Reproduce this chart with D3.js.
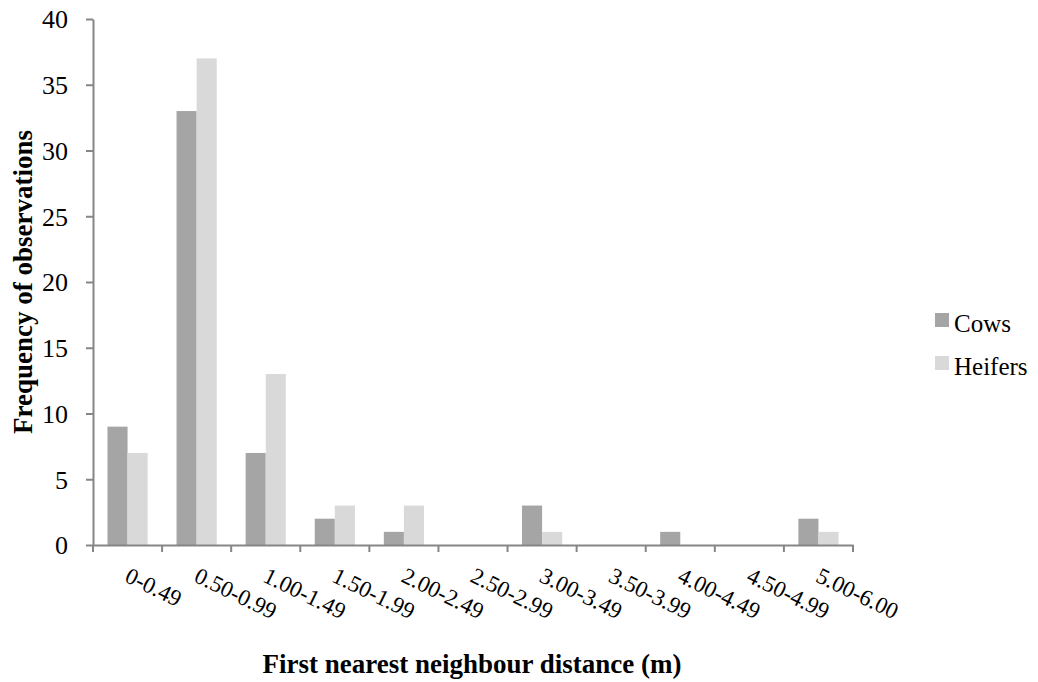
<!DOCTYPE html>
<html><head><meta charset="utf-8">
<script src="https://cdn.jsdelivr.net/npm/d3@7"></script>
<style>body{margin:0;background:#fff}svg{display:block}</style>
</head><body>
<script>
const categories = ["0-0.49","0.50-0.99","1.00-1.49","1.50-1.99","2.00-2.49","2.50-2.99","3.00-3.49","3.50-3.99","4.00-4.49","4.50-4.99","5.00-6.00"];
const cows = [9,33,7,2,1,0,3,0,1,0,2];
const heifers = [7,37,13,3,3,0,1,0,0,0,1];
const seriesNames = ["Cows","Heifers"];
const colors = ["#a5a5a5","#d9d9d9"];
const yTicks = [0,5,10,15,20,25,30,35,40];

(function(){
const FONT="'Liberation Serif', 'Times New Roman', Times, serif";
const W=1038,H=682;
const pL=93,pR=853,pT=19,pB=545;
const svg=d3.select("body").append("svg").attr("width",W).attr("height",H);
const x=d3.scaleBand().domain(categories).range([pL,pR]).paddingInner(0).paddingOuter(0);
const x1=d3.scaleBand().domain(seriesNames).range([0,x.bandwidth()]).paddingInner(0).paddingOuter(0.72);
const y=d3.scaleLinear().domain([0,40]).range([pB,pT]);
const axisCol="#868686";

const series=[cows,heifers];
seriesNames.forEach((s,si)=>{
  svg.append("g").selectAll("rect").data(categories).join("rect")
    .attr("x",d=>x(d)+x1(s))
    .attr("width",x1.bandwidth())
    .attr("y",(d,i)=>y(series[si][i]))
    .attr("height",(d,i)=>y(0)-y(series[si][i]))
    .attr("fill",colors[si]);
});

const ya=svg.append("g").attr("transform",`translate(${pL},0)`)
  .call(d3.axisLeft(y).tickValues(yTicks).tickSize(7).tickPadding(18).tickSizeOuter(0));
ya.select(".domain").attr("stroke",axisCol).attr("stroke-width",2);
ya.selectAll(".tick line").attr("stroke",axisCol).attr("stroke-width",2);
ya.selectAll(".tick text").style("font-family",FONT).style("font-size","26px").attr("fill","#000").attr("dy","0.34em");

const xa=svg.append("g").attr("transform",`translate(0,${pB})`)
  .call(d3.axisBottom(x).tickSize(0).tickSizeOuter(0));
xa.select(".domain").attr("stroke",axisCol).attr("stroke-width",2);
xa.selectAll(".tick line").remove();
xa.selectAll(".tick text")
  .style("font-family",FONT).style("font-size","23px").attr("fill","#000")
  .attr("text-anchor","start").attr("dy",0).attr("y",0).attr("x",0)
  .attr("transform","translate(-4,36) rotate(26)");
const bounds=categories.map(c=>x(c)).concat([pR]);
svg.append("g").selectAll("line").data(bounds).join("line")
  .attr("x1",d=>d).attr("x2",d=>d).attr("y1",pB).attr("y2",pB+7)
  .attr("stroke",axisCol).attr("stroke-width",2);

svg.append("text").attr("x",472).attr("y",673).attr("text-anchor","middle")
  .style("font-family",FONT).style("font-size","27px").style("font-weight","bold").text("First nearest neighbour distance (m)");
svg.append("text").attr("transform","translate(32,282) rotate(-90)").attr("text-anchor","middle")
  .style("font-family",FONT).style("font-size","27px").style("font-weight","bold").text("Frequency of observations");

const lg=svg.append("g");
seriesNames.forEach((s,i)=>{
  const ty=313+i*43;
  lg.append("rect").attr("x",935).attr("y",ty).attr("width",14).attr("height",14).attr("fill",colors[i]);
  lg.append("text").attr("x",954).attr("y",ty+19).style("font-family",FONT).style("font-size","25px").attr("fill","#000").text(s);
});
})();
</script>
</body></html>
